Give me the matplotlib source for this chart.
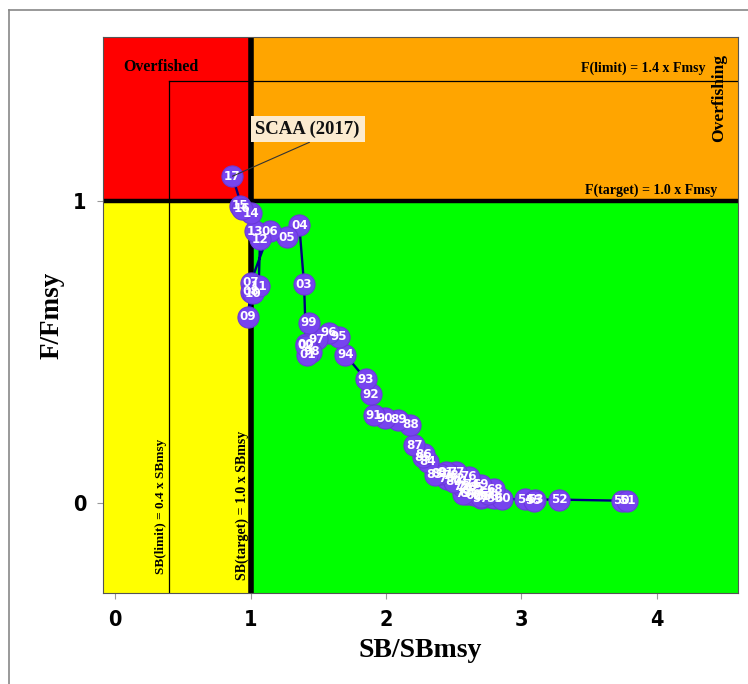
import matplotlib
matplotlib.use("Agg")
import matplotlib.pyplot as plt
from matplotlib.lines import Line2D
from matplotlib import font_manager

years = ["50", "51", "52", "53", "54", "55", "56", "57", "58", "59",
         "60", "61", "62", "63", "64", "65", "66", "67", "68", "69",
         "70", "71", "72", "73", "74", "75", "76", "77", "78", "79",
         "80", "81", "82", "83", "84", "85", "86", "87", "88", "89",
         "90", "91", "92", "93", "94", "95", "96", "97", "98", "99",
         "00", "01", "02", "03", "04", "05", "06", "07", "08", "09",
         "10", "11", "12", "13", "14", "15", "16", "17"]
sb_ratio = [3.74, 3.78, 3.28, 3.10, 3.03, 3.09, 2.72, 2.70, 2.77, 2.80,
            2.86, 2.74, 2.65, 2.62, 2.60, 2.66, 2.70, 2.75, 2.80, 2.70,
            2.58, 2.55, 2.52, 2.57, 2.63, 2.56, 2.61, 2.52, 2.48, 2.45,
            2.50, 2.44, 2.40, 2.36, 2.31, 2.27, 2.28, 2.21, 2.18, 2.09,
            1.99, 1.91, 1.89, 1.85, 1.70, 1.65, 1.58, 1.49, 1.45, 1.43,
            1.41, 1.42, 1.41, 1.395, 1.36, 1.27, 1.14, 1.00, 1.00, 0.98,
            1.02, 1.06, 1.07, 1.03, 1.00, 0.92, 0.94, 0.866]
f_ratio = [0.006, 0.006, 0.010, 0.010, 0.012, 0.006, 0.020, 0.015, 0.020, 0.015,
           0.013, 0.030, 0.025, 0.040, 0.030, 0.050, 0.020, 0.030, 0.045, 0.060,
           0.050, 0.070, 0.080, 0.030, 0.060, 0.055, 0.086, 0.100, 0.090, 0.080,
           0.070, 0.100, 0.095, 0.093, 0.136, 0.150, 0.160, 0.190, 0.258, 0.275,
           0.280, 0.290, 0.360, 0.410, 0.490, 0.550, 0.563, 0.542, 0.500, 0.597,
           0.525, 0.490, 0.520, 0.725, 0.920, 0.880, 0.900, 0.730, 0.700, 0.616,
           0.695, 0.718, 0.874, 0.900, 0.960, 0.985, 0.975, 1.083]

x_ticks = [0, 1, 2, 3, 4]
y_ticks = [0, 1]
sb_limit = 0.4
sb_target = 1.0
f_limit = 1.4
f_target = 1.0
xlim = (-0.09, 4.6)
ylim = (-0.30, 1.545)

serif = "Liberation Serif"
tick_font = dict(family="DejaVu Sans", stretch="condensed", weight="bold", size=15.5)

fig = plt.figure(figsize=(7.48, 6.84), dpi=100)
ax = fig.add_axes([0.1377, 0.133, 0.8489, 0.8129])
ax.set_xlim(*xlim)
ax.set_ylim(*ylim)

# quadrants
ax.fill_between([xlim[0], sb_target], ylim[0], f_target, color="#FFFF00", lw=0, zorder=0)
ax.fill_between([sb_target, xlim[1]], ylim[0], f_target, color="#00FF00", lw=0, zorder=0)
ax.fill_between([xlim[0], sb_target], f_target, ylim[1], color="#FF0000", lw=0, zorder=0)
ax.fill_between([sb_target, xlim[1]], f_target, ylim[1], color="#FFA500", lw=0, zorder=0)

# reference lines
ax.plot([sb_limit, sb_limit], [ylim[0], f_limit], color="black", lw=0.9, zorder=1)
ax.plot([sb_limit, xlim[1]], [f_limit, f_limit], color="black", lw=0.9, zorder=1)
ax.axvline(sb_target, color="black", lw=4.0, zorder=1)
ax.axhline(f_target, color="black", lw=3.2, zorder=1)

# trajectory
ax.plot(sb_ratio, f_ratio, color="#000080", lw=1.7, zorder=2)
ax.scatter(sb_ratio, f_ratio, s=15.2**2, color="#7744EE", edgecolor="#6a3ad8",
           linewidths=0.8, zorder=3)
for xv, yv, lab in zip(sb_ratio, f_ratio, years):
    ax.text(xv, yv, lab, color="white", fontsize=9.5, fontweight="bold",
            family="DejaVu Sans", stretch="condensed", ha="center", va="center", zorder=4)

# annotation
ax.annotate("SCAA (2017)", xy=(sb_ratio[-1], f_ratio[-1]), xytext=(1.035, 1.24),
            textcoords="data", fontsize=13.5, fontweight="bold", family=serif,
            ha="left", va="center", color="#111111",
            bbox=dict(boxstyle="square,pad=0.25", fc="#FCEBCF", ec="none"),
            arrowprops=dict(arrowstyle="-", color="#333333", lw=0.8,
                            shrinkA=0, shrinkB=0, relpos=(0.62, 0.0)),
            zorder=5)

# texts
ax.text(0.06, 1.445, "Overfished", fontsize=11.5, fontweight="bold", family=serif,
        ha="left", va="center")
ax.text(4.36, 1.44, "F(limit) = 1.4 x Fmsy", fontsize=10, fontweight="bold",
        family=serif, ha="right", va="center")
ax.text(4.45, 1.035, "F(target) = 1.0 x Fmsy", fontsize=10, fontweight="bold",
        family=serif, ha="right", va="center")
ax.text(4.46, 1.344, "Overfishing", fontsize=12.5, fontweight="bold", family=serif,
        ha="center", va="center", rotation=90)
ax.text(0.335, -0.013, "SB(limit) = 0.4 x SBmsy", fontsize=9.5, fontweight="bold",
        family=serif, ha="center", va="center", rotation=90)
ax.text(0.935, -0.01, "SB(target) = 1.0 x SBmsy", fontsize=10, fontweight="bold",
        family=serif, ha="center", va="center", rotation=90)

ax.set_xticks(x_ticks)
ax.set_yticks(y_ticks)
ax.set_xticklabels([str(t) for t in x_ticks], **tick_font)
ax.set_yticklabels([str(t) for t in y_ticks], **tick_font)
ax.tick_params(length=4, color="#999999", width=0.8, pad=8)
for s in ax.spines.values():
    s.set_color("#555555")
    s.set_linewidth(0.8)
ax.set_xlabel("SB/SBmsy", fontsize=20, fontweight="bold", family=serif, labelpad=6)
ax.set_ylabel("F/Fmsy", fontsize=19.5, fontweight="bold", family=serif, labelpad=6)

# outer frame lines
fig.add_artist(Line2D([9 / 748, 9 / 748], [0, 1 - 10 / 684], transform=fig.transFigure,
                      color="#888888", lw=1.2))
fig.add_artist(Line2D([9 / 748, 1], [1 - 10 / 684, 1 - 10 / 684], transform=fig.transFigure,
                      color="#888888", lw=1.2))

fig.savefig("out.png", dpi=100)
